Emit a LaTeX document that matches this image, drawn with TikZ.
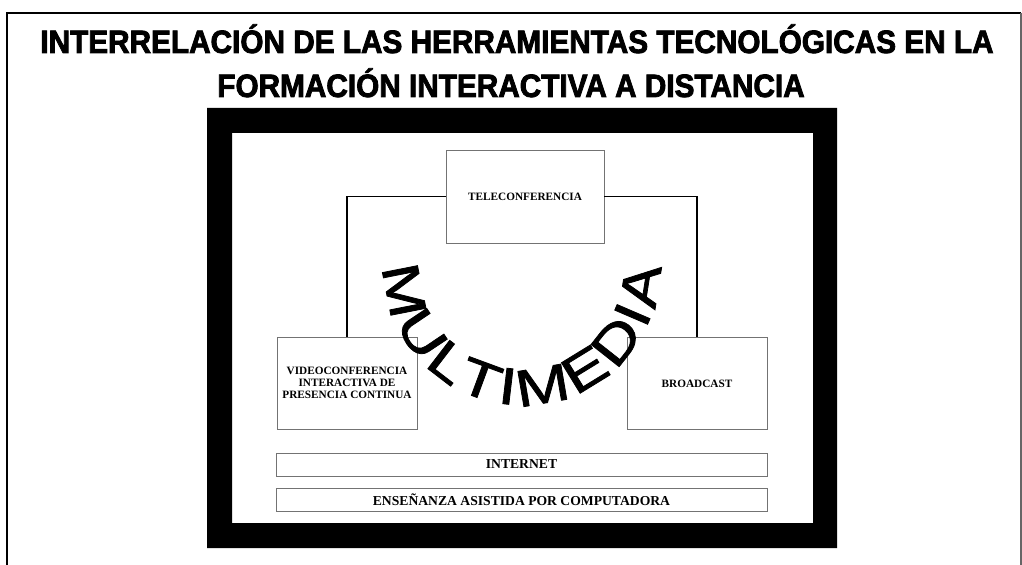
\documentclass[tikz,border=0pt]{standalone}
\usepackage{fontspec}
\setmainfont{Liberation Serif}
\newfontfamily\titlefont{Liberation Sans}[FakeStretch=0.92,FakeBold=2.5]
\newfontfamily\mmfontfam{Liberation Sans}[FakeStretch=1.25,FakeBold=1.5]
\newcommand\mmfont{\mmfontfam\fontsize{37}{40}\selectfont}
\usetikzlibrary{decorations.text,positioning}

\begin{document}
\begin{tikzpicture}[
  x=0.025cm,y=0.025cm,
  tool/.style={draw=black!55,fill=white,thin,minimum width=3.5cm,minimum height=2.3cm,inner sep=1pt,align=center,font=\bfseries\fontsize{8}{8.6}\selectfont},
  band/.style={draw=black!55,fill=white,thin,minimum width=12.275cm,minimum height=0.58cm,inner sep=0pt,font=\bfseries\fontsize{9.7}{10}\selectfont},
  link/.style={draw=black,line width=0.9pt},
  headline/.style={anchor=base,font=\titlefont\bfseries\fontsize{23}{25}\selectfont}
]
\useasboundingbox (0,0) rectangle (1022,-565);

% page frame
\draw[line width=1.5pt] (7,-565) -- (7,-13) -- (1021,-13);
\draw[black!60,line width=1pt] (1021,-13) -- (1021,-565);

\node[headline] (title1) at (517,-53) {INTERRELACIÓN DE LAS HERRAMIENTAS TECNOLÓGICAS EN LA};
\node[headline] (title2) at (511,-97) {FORMACIÓN INTERACTIVA A DISTANCIA};

% black mat
\fill[black,even odd rule] (207,-108) rectangle (837,-548) (232,-133) rectangle (813,-523);

\node[tool,minimum width=3.95cm,minimum height=2.325cm] (tele) at (525,-196.5) {TELECONFERENCIA};
\node[tool] (video) at (347,-383) {VIDEOCONFERENCIA\\INTERACTIVA DE\\PRESENCIA CONTINUA};
\node[tool] (bcast) at (697,-383.5) {BROADCAST};

\draw[link] (tele.west) -| (video.north);
\draw[link] (tele.east) -| (bcast.north);

% curved label
\path[decorate,decoration={text along path,text align=fit to path,
  text={|\mmfont|MULTIMEDIA}}] (384,-267) arc[start angle=180,end angle=360,radius=138];

\node[band] (inet) at (521.5,-464.5) {INTERNET};
\node[band] (eac) at (521.5,-500) {ENSEÑANZA ASISTIDA POR COMPUTADORA};
\end{tikzpicture}
\end{document}
